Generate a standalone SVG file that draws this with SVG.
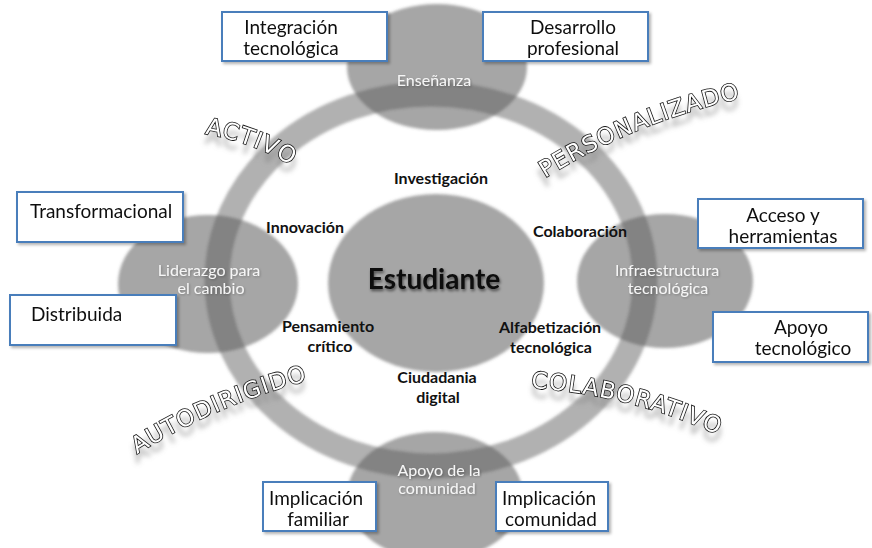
<svg xmlns="http://www.w3.org/2000/svg" width="872" height="548" viewBox="0 0 872 548">
  <defs>
    <filter id="soft" x="-10%" y="-10%" width="120%" height="120%">
      <feGaussianBlur stdDeviation="1.6"/>
    </filter>
    <filter id="reflect" x="-10%" y="-60%" width="120%" height="260%">
      <feGaussianBlur in="SourceAlpha" stdDeviation="2.4"/>
      <feOffset dx="0" dy="9" result="b"/>
      <feFlood flood-color="#808080" flood-opacity="0.45"/>
      <feComposite in2="b" operator="in"/>
      <feMerge><feMergeNode/><feMergeNode in="SourceGraphic"/></feMerge>
    </filter>
    <filter id="boxShadow" x="-10%" y="-20%" width="130%" height="150%">
      <feGaussianBlur in="SourceAlpha" stdDeviation="1.5"/>
      <feOffset dx="2" dy="2" result="b"/>
      <feFlood flood-color="#000" flood-opacity="0.3"/>
      <feComposite in2="b" operator="in"/>
      <feMerge><feMergeNode/><feMergeNode in="SourceGraphic"/></feMerge>
    </filter>
    <filter id="textGlow" x="-10%" y="-30%" width="120%" height="160%">
      <feGaussianBlur in="SourceAlpha" stdDeviation="1.5"/>
      <feOffset dx="1" dy="1.5" result="b"/>
      <feFlood flood-color="#000" flood-opacity="0.55"/>
      <feComposite in2="b" operator="in"/>
      <feMerge><feMergeNode/><feMergeNode in="SourceGraphic"/></feMerge>
    </filter>
    <filter id="lightShadow" x="-10%" y="-30%" width="120%" height="160%">
      <feGaussianBlur in="SourceAlpha" stdDeviation="1"/>
      <feOffset dx="0.5" dy="1" result="b"/>
      <feFlood flood-color="#000" flood-opacity="0.25"/>
      <feComposite in2="b" operator="in"/>
      <feMerge><feMergeNode/><feMergeNode in="SourceGraphic"/></feMerge>
    </filter>
    <path id="arcActivo" d="M 205 134 A 240 240 0 0 1 318 184"/>
    <path id="arcPers" d="M 545 178 A 620 620 0 0 1 752 96"/>
    <path id="arcAuto" d="M 137 454 A 620 620 0 0 1 318 378"/>
    <path id="arcColab" d="M 531 388 A 520 520 0 0 1 750 451"/>
  </defs>
  <style>
    .shape { fill: #5c5c5c; fill-opacity: 0.55; }
    .ring { fill: none; stroke: #5c5c5c; stroke-opacity: 0.48; stroke-width: 25; }
    .box { fill: #ffffff; stroke: #4a7ebb; stroke-width: 2; }
    .boxText { font-family: Lato, "Liberation Sans", sans-serif; font-size: 19px; fill: #111; }
    .inner { font-family: Lato, "Liberation Sans", sans-serif; font-size: 16px; fill: #f6f6f6; text-anchor: middle; }
    .key { font-family: Lato, "Liberation Sans", sans-serif; font-size: 16px; font-weight: bold; fill: #111; text-anchor: middle; }
    .word { font-family: "DejaVu Sans", sans-serif; font-size: 23px; letter-spacing: 1.2px; fill: #ffffff; stroke: #111; stroke-width: 1.6; paint-order: stroke; }
  </style>

  <rect width="872" height="548" fill="#ffffff"/>

  <!-- soft grey ring and the five ovals -->
  <g id="shapes" filter="url(#soft)">
    <ellipse id="ring" class="ring" cx="431" cy="280" rx="214" ry="186"/>
    <ellipse id="oval-ensenanza" class="shape" cx="437" cy="67" rx="90" ry="63"/>
    <ellipse id="oval-estudiante" class="shape" cx="436" cy="283" rx="108" ry="89"/>
    <ellipse id="oval-liderazgo" class="shape" cx="208" cy="284" rx="90" ry="69"/>
    <ellipse id="oval-infra" class="shape" cx="665" cy="281" rx="88" ry="67"/>
    <ellipse id="oval-apoyo" class="shape" cx="435" cy="496" rx="88" ry="64"/>
  </g>

  <!-- arched words, each with a soft reflection beneath -->
  <g id="arched-words" filter="url(#reflect)">
    <text class="word"><textPath href="#arcActivo">ACTIVO</textPath></text>
    <text class="word"><textPath href="#arcPers">PERSONALIZADO</textPath></text>
    <text class="word"><textPath href="#arcAuto">AUTODIRIGIDO</textPath></text>
    <text class="word"><textPath href="#arcColab">COLABORATIVO</textPath></text>
  </g>

  <!-- labels inside the ovals -->
  <g id="node-ensenanza" filter="url(#lightShadow)">
    <text class="inner" x="434" y="86">Enseñanza</text>
  </g>
  <g id="node-liderazgo" filter="url(#lightShadow)">
    <text class="inner" x="209" y="276">Liderazgo para</text>
    <text class="inner" x="211" y="294">el cambio</text>
  </g>
  <g id="node-infra" filter="url(#lightShadow)">
    <text class="inner" x="667" y="276">Infraestructura</text>
    <text class="inner" x="668" y="294">tecnológica</text>
  </g>
  <g id="node-apoyo" filter="url(#lightShadow)">
    <text class="inner" x="439" y="476">Apoyo de la</text>
    <text class="inner" x="437" y="494">comunidad</text>
  </g>
  <g id="node-estudiante">
    <text x="434" y="289" font-family="Lato, 'Liberation Sans', sans-serif" font-size="28" font-weight="bold" fill="#111" text-anchor="middle" filter="url(#textGlow)">Estudiante</text>
  </g>

  <!-- skills around the student -->
  <g id="skills">
    <text class="key" x="441" y="184">Investigación</text>
    <text class="key" x="305" y="233">Innovación</text>
    <text class="key" x="580" y="237">Colaboración</text>
    <text class="key" x="328" y="332">Pensamiento</text>
    <text class="key" x="330" y="352">crítico</text>
    <text class="key" x="550" y="333">Alfabetización</text>
    <text class="key" x="551" y="353">tecnológica</text>
    <text class="key" x="437" y="383">Ciudadania</text>
    <text class="key" x="438" y="403">digital</text>
  </g>

  <!-- outlined boxes -->
  <g id="box-integracion" filter="url(#boxShadow)">
    <rect class="box" x="222" y="12" width="165" height="49"/>
    <text class="boxText" x="291" y="34" text-anchor="middle" font-size="18">Integración</text>
    <text class="boxText" x="291" y="55" text-anchor="middle" font-size="18">tecnológica</text>
  </g>
  <g id="box-desarrollo" filter="url(#boxShadow)">
    <rect class="box" x="483" y="12" width="165" height="49"/>
    <text class="boxText" x="573" y="34" text-anchor="middle" font-size="18">Desarrollo</text>
    <text class="boxText" x="573" y="55" text-anchor="middle" font-size="18">profesional</text>
  </g>
  <g id="box-transformacional" filter="url(#boxShadow)">
    <rect class="box" x="17" y="192" width="166" height="50"/>
    <text class="boxText" x="30" y="218">Transformacional</text>
  </g>
  <g id="box-distribuida" filter="url(#boxShadow)">
    <rect class="box" x="10" y="295" width="166" height="50"/>
    <text class="boxText" x="31" y="321">Distribuida</text>
  </g>
  <g id="box-acceso" filter="url(#boxShadow)">
    <rect class="box" x="698" y="199" width="165" height="49"/>
    <text class="boxText" x="783" y="222" text-anchor="middle">Acceso y</text>
    <text class="boxText" x="783" y="243" text-anchor="middle">herramientas</text>
  </g>
  <g id="box-apoyo-tec" filter="url(#boxShadow)">
    <rect class="box" x="713" y="312" width="155" height="50"/>
    <text class="boxText" x="801" y="334" text-anchor="middle">Apoyo</text>
    <text class="boxText" x="803" y="355" text-anchor="middle">tecnológico</text>
  </g>
  <g id="box-familiar" filter="url(#boxShadow)">
    <rect class="box" x="263" y="482" width="113" height="49"/>
    <text class="boxText" x="316" y="505" text-anchor="middle">Implicación</text>
    <text class="boxText" x="318" y="526" text-anchor="middle">familiar</text>
  </g>
  <g id="box-comunidad" filter="url(#boxShadow)">
    <rect class="box" x="496" y="482" width="112" height="49"/>
    <text class="boxText" x="549" y="505" text-anchor="middle">Implicación</text>
    <text class="boxText" x="551" y="526" text-anchor="middle">comunidad</text>
  </g>
</svg>
